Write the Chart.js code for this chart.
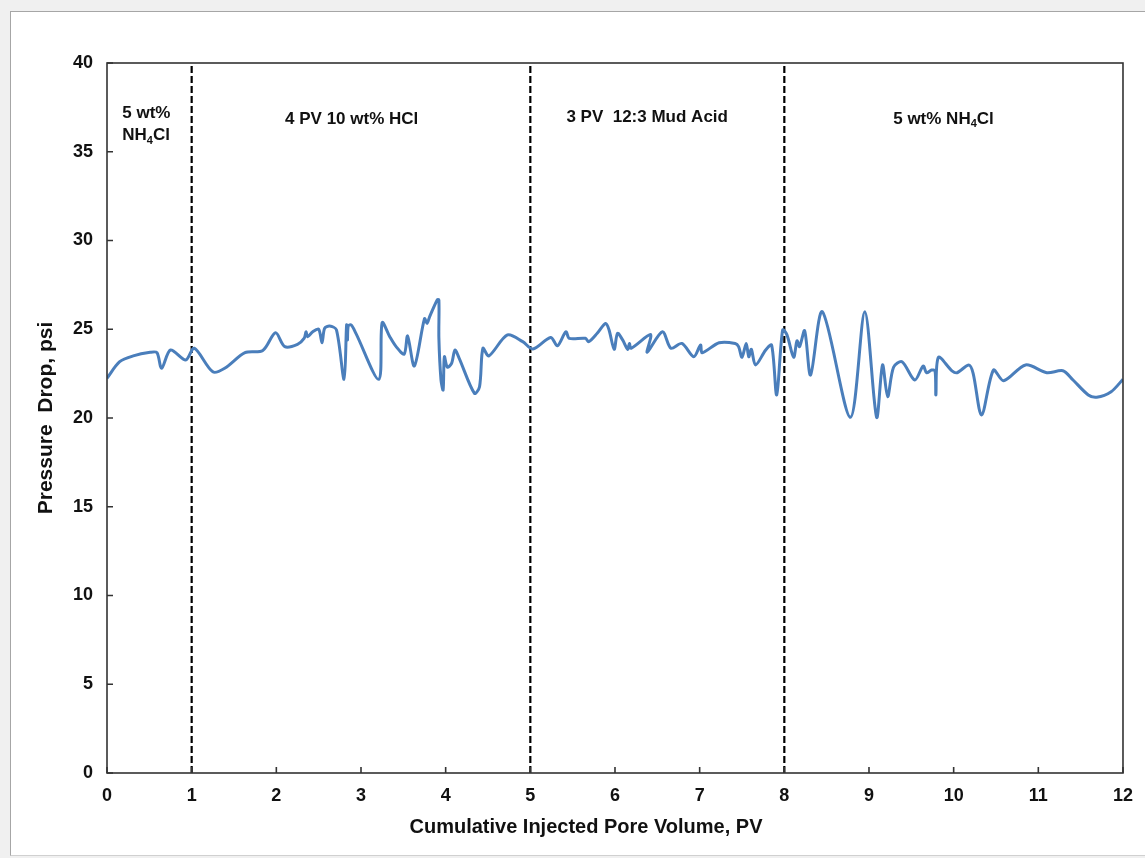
<!DOCTYPE html>
<html lang="en">
<head>
    <meta charset="UTF-8">
    <title>Pressure Drop vs Cumulative Injected Pore Volume</title>
    <script src="https://cdn.jsdelivr.net/npm/chart.js"></script>
    <style>
        body {
            margin: 0;
            background: #f0f0f0;
        }
        .chart-box {
            position: absolute;
            left: 10px;
            top: 11px;
            width: 1134px;
            height: 843px;
            background: #fff;
            border-left: 1px solid #a6a6a6;
            border-top: 1px solid #a6a6a6;
            border-bottom: 1px solid #d0d0d0;
        }
    </style>
</head>
<body>
    <div class="chart-box">
        <canvas id="dpChart" width="1134" height="843"></canvas>
    </div>

    <script>
        // cumulative injected pore volume (PV) and pressure drop (psi)
        const pv = [
            0, 0.15, 0.31, 0.51, 0.59, 0.645, 0.75, 0.93, 1.03, 1.25, 1.39, 1.63, 1.84, 1.99, 2.10, 2.25,
            2.33, 2.35, 2.37, 2.43, 2.50, 2.54, 2.57, 2.63, 2.71, 2.80, 2.83, 2.84, 2.85, 2.885, 2.94,
            3.21, 3.25, 3.34, 3.415, 3.51, 3.55, 3.63, 3.75, 3.78, 3.81, 3.90, 3.92, 3.92, 3.945, 3.97,
            3.985, 4.02, 4.07, 4.11, 4.16, 4.34, 4.40, 4.44, 4.51, 4.73, 4.91,
            5.03, 5.24, 5.32, 5.42, 5.46, 5.65, 5.69, 5.79, 5.89, 5.93, 5.99, 6.03, 6.09, 6.15, 6.17,
            6.19, 6.42, 6.38, 6.56, 6.66, 6.79, 6.93, 7.01, 7.03, 7.23, 7.42, 7.46, 7.50, 7.55, 7.58,
            7.61, 7.66, 7.78, 7.85, 7.91, 7.98,
            8.03, 8.11, 8.15, 8.18, 8.24, 8.31, 8.45, 8.78, 8.95, 9.09, 9.16, 9.22, 9.29, 9.39, 9.54,
            9.64, 9.68, 9.74, 9.78, 9.79, 9.82, 9.98, 10.04, 10.18, 10.23, 10.33, 10.47, 10.59, 10.85,
            11.10, 11.29, 11.41, 11.59, 11.69, 11.86, 12.0
        ];
        const dp = [
            22.24, 23.17, 23.5, 23.7, 23.68, 22.8, 23.83, 23.27, 23.93, 22.6, 22.8, 23.68, 23.8, 24.8, 24.02, 24.15,
            24.5, 24.85, 24.58, 24.86, 25.0, 24.24, 25.05, 25.18, 24.96, 22.18, 25.24, 24.4, 25.2, 25.24, 24.77,
            22.18, 25.37, 24.58, 24.02, 23.6, 24.62, 22.93, 25.6, 25.33, 25.7, 26.65, 26.65, 24.5, 22.14, 21.58,
            23.45, 22.86, 23.08, 23.83, 23.36, 21.39, 21.76, 23.93, 23.5, 24.68, 24.3,
            23.89, 24.54, 24.07, 24.86, 24.49, 24.49, 24.3, 24.77, 25.33, 24.96, 23.87, 24.77, 24.4, 23.87, 24.2,
            23.93, 24.7, 23.7, 24.86, 23.93, 24.2, 23.45, 24.11, 23.68, 24.24, 24.2, 24.02, 23.42, 24.2, 23.45,
            23.87, 22.99, 23.83, 24.11, 21.3, 24.96,
            24.7, 23.43, 24.35, 24.02, 24.92, 22.42, 25.99, 20.04, 25.99, 20.04, 22.99, 21.2, 22.86, 23.17, 22.14,
            22.93, 22.55, 22.7, 22.66, 21.3, 23.42, 22.66, 22.55, 22.99, 22.52, 20.17, 22.7, 22.1, 22.99,
            22.55, 22.66, 22.14, 21.3, 21.17, 21.48, 22.18
        ];

        // fluid stage boundaries (PV)
        const stageBreaks = [1, 5, 8];

        // stage captions: text parts [text, subscript?], anchor pv, anchor psi, alignment
        const stageLabels = [
            { parts: [['5 wt%', false]], x: 0.18, y: 37.18, align: 'left' },
            { parts: [['NH', false], ['4', true], ['Cl', false]], x: 0.18, y: 35.9, align: 'left' },
            { parts: [['4 PV 10 wt% HCl', false]], x: 2.89, y: 36.8, align: 'center' },
            { parts: [['3 PV  12:3 Mud Acid', false]], x: 6.38, y: 36.96, align: 'center' },
            { parts: [['5 wt% NH', false], ['4', true], ['Cl', false]], x: 9.88, y: 36.85, align: 'center' }
        ];

        const FONT = 'Arial, "Liberation Sans", sans-serif';

        const points = pv.map((x, i) => ({ x: x, y: dp[i] }));

        const breakSets = stageBreaks.map(b => ({
            data: [{ x: b, y: 0 }, { x: b, y: 40 }],
            borderColor: '#000',
            borderWidth: 2.2,
            borderDash: [7, 3],
            pointRadius: 0,
            showLine: true,
            tension: 0
        }));

        const framePlugin = {
            id: 'frame',
            afterDatasetsDraw(chart) {
                const { ctx, chartArea: a, scales } = chart;
                ctx.save();
                ctx.strokeStyle = '#333';
                ctx.lineWidth = 1.6;
                ctx.strokeRect(a.left, a.top, a.right - a.left, a.bottom - a.top);

                // inward tick marks
                ctx.beginPath();
                scales.x.ticks.forEach(t => {
                    const px = scales.x.getPixelForValue(t.value);
                    ctx.moveTo(px, a.bottom);
                    ctx.lineTo(px, a.bottom - 6);
                });
                scales.y.ticks.forEach(t => {
                    const py = scales.y.getPixelForValue(t.value);
                    ctx.moveTo(a.left, py);
                    ctx.lineTo(a.left + 6, py);
                });
                ctx.stroke();

                // stage captions
                ctx.fillStyle = '#111';
                ctx.textBaseline = 'middle';
                stageLabels.forEach(l => {
                    const big = 'bold 17px ' + FONT;
                    const small = 'bold 11px ' + FONT;
                    let w = 0;
                    l.parts.forEach(p => {
                        ctx.font = p[1] ? small : big;
                        w += ctx.measureText(p[0]).width;
                    });
                    let px = scales.x.getPixelForValue(l.x);
                    const py = scales.y.getPixelForValue(l.y);
                    if (l.align === 'center') px -= w / 2;
                    ctx.textAlign = 'left';
                    l.parts.forEach(p => {
                        ctx.font = p[1] ? small : big;
                        ctx.fillText(p[0], px, p[1] ? py + 5 : py);
                        px += ctx.measureText(p[0]).width;
                    });
                });

                // x axis title
                ctx.font = 'bold 20px ' + FONT;
                ctx.textAlign = 'center';
                ctx.fillStyle = '#111';
                ctx.fillText('Cumulative Injected Pore Volume, PV', 575, 815);
                ctx.restore();
            }
        };

        new Chart(document.getElementById('dpChart'), {
            type: 'scatter',
            data: {
                datasets: [
                    {
                        data: points,
                        borderColor: '#4a7ebb',
                        borderWidth: 3,
                        pointRadius: 0,
                        showLine: true,
                        tension: 0.3
                    },
                    ...breakSets
                ]
            },
            options: {
                responsive: false,
                animation: false,
                events: [],
                layout: { padding: { top: 51, right: 20, left: 0, bottom: 0 } },
                plugins: {
                    legend: { display: false },
                    tooltip: { enabled: false }
                },
                scales: {
                    x: {
                        type: 'linear',
                        min: 0,
                        max: 12,
                        afterFit: s => { s.height = 82; },
                        grid: { display: false, drawTicks: false },
                        border: { display: false },
                        ticks: {
                            stepSize: 1,
                            padding: 12,
                            color: '#111',
                            font: { family: FONT, size: 18, weight: 'bold' }
                        }
                    },
                    y: {
                        min: 0,
                        max: 40,
                        afterFit: s => { s.width = 96; },
                        grid: { display: false, drawTicks: false },
                        border: { display: false },
                        ticks: {
                            stepSize: 5,
                            padding: 14,
                            color: '#111',
                            font: { family: FONT, size: 18, weight: 'bold' }
                        },
                        title: {
                            display: true,
                            text: 'Pressure  Drop, psi',
                            color: '#111',
                            padding: { top: 23, bottom: 0 },
                            font: { family: FONT, size: 21, weight: 'bold' }
                        }
                    }
                }
            },
            plugins: [framePlugin]
        });
    </script>
</body>
</html>
